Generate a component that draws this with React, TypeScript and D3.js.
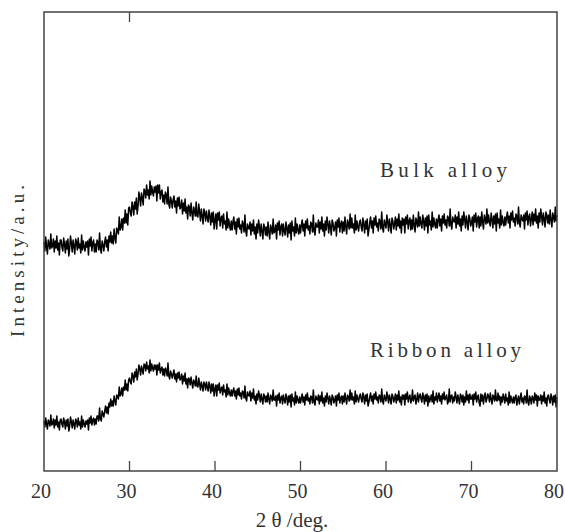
import React from "react";
import * as d3 from "d3";

// 2θ sampling grid of the digitised patterns (one row below = 1 degree)
const TWO_THETA_START = 20;
const TWO_THETA_STEP = 0.1;

// Intensity (a.u., arbitrary offset units)
const BULK = [
  229, 220, 234, 224, 217, 231, 227, 222, 237, 223,
  225, 232, 219, 230, 223, 235, 221, 228, 216, 231,
  231, 224, 220, 233, 227, 218, 230, 222, 232, 215,
  222, 235, 228, 219, 231, 225, 217, 232, 229, 221,
  233, 223, 227, 218, 236, 221, 230, 224, 220, 229,
  224, 230, 216, 232, 225, 234, 220, 228, 231, 219,
  227, 219, 231, 229, 221, 238, 222, 218, 230, 226,
  220, 229, 234, 224, 231, 220, 235, 229, 239, 228,
  235, 227, 242, 233, 228, 243, 241, 237, 254, 241,
  244, 252, 241, 253, 248, 261, 248, 257, 246, 263,
  264, 258, 255, 269, 264, 256, 269, 262, 273, 257,
  265, 279, 273, 265, 278, 273, 266, 282, 280, 273,
  286, 276, 281, 272, 290, 276, 285, 279, 275, 284,
  279, 285, 270, 286, 278, 286, 272, 279, 281, 269,
  276, 267, 279, 276, 267, 284, 267, 263, 274, 270,
  263, 271, 275, 264, 270, 258, 273, 265, 274, 262,
  264, 271, 257, 268, 260, 272, 258, 264, 252, 266,
  264, 255, 268, 258, 251, 264, 260, 255, 269, 255,
  254, 267, 259, 250, 262, 255, 247, 262, 258, 250,
  260, 253, 249, 261, 255, 246, 258, 249, 259, 242,
  251, 257, 242, 258, 251, 259, 245, 253, 255, 243,
  257, 247, 250, 241, 259, 243, 252, 246, 241, 250,
  241, 249, 254, 242, 249, 237, 252, 244, 253, 242,
  246, 238, 250, 247, 239, 256, 240, 235, 247, 243,
  242, 249, 236, 247, 240, 251, 237, 244, 232, 247,
  238, 251, 244, 235, 247, 240, 232, 247, 244, 236,
  244, 235, 249, 239, 232, 246, 242, 237, 252, 238,
  240, 246, 232, 248, 241, 250, 236, 244, 247, 235,
  247, 240, 236, 249, 243, 234, 246, 238, 248, 231,
  250, 240, 244, 235, 253, 238, 247, 241, 237, 246,
  238, 246, 251, 240, 247, 235, 250, 243, 252, 241,
  245, 237, 249, 247, 239, 256, 240, 236, 248, 244,
  244, 251, 238, 249, 242, 254, 240, 247, 235, 250,
  241, 254, 247, 238, 250, 244, 236, 251, 248, 240,
  243, 249, 235, 251, 244, 253, 239, 247, 250, 238,
  249, 240, 254, 244, 237, 251, 247, 242, 257, 243,
  253, 243, 247, 238, 256, 241, 250, 244, 240, 249,
  251, 244, 240, 253, 247, 238, 250, 242, 252, 235,
  241, 249, 254, 243, 250, 238, 253, 246, 255, 244,
  248, 240, 252, 250, 242, 259, 243, 239, 251, 247,
  243, 256, 249, 240, 252, 246, 238, 253, 250, 242,
  247, 254, 241, 252, 245, 257, 243, 250, 238, 253,
  246, 252, 238, 254, 247, 256, 242, 250, 253, 241,
  251, 242, 256, 246, 239, 253, 249, 244, 259, 245,
  254, 247, 243, 256, 250, 241, 253, 245, 255, 238,
  256, 246, 250, 241, 259, 244, 253, 247, 243, 252,
  243, 251, 256, 245, 252, 240, 255, 248, 257, 246,
  251, 243, 255, 253, 245, 262, 246, 242, 254, 250,
  249, 256, 243, 254, 247, 259, 245, 252, 240, 255,
  246, 259, 252, 243, 255, 249, 241, 256, 253, 245,
  248, 254, 240, 256, 249, 258, 244, 252, 255, 243,
  254, 245, 259, 249, 242, 256, 252, 247, 262, 248,
  256, 249, 245, 258, 252, 243, 255, 247, 257, 240,
  258, 248, 252, 243, 261, 246, 255, 249, 245, 254,
  246, 254, 259, 248, 255, 243, 258, 251, 260, 249,
  253, 245, 257, 255, 247, 264, 248, 244, 256, 252,
  250, 256, 242, 258, 251, 260, 246, 254, 257, 245,
  252, 259, 246, 257, 250, 262, 248, 255, 243, 258,
  249, 262, 255, 246, 258, 252, 244, 259, 256, 248,
  256, 247, 261, 251, 244, 258, 254, 249, 264, 250,
  256,
];

const RIBBON = [
  50, 44, 53, 47, 42, 51, 49, 45, 56, 46,
  47, 52, 43, 51, 46, 55, 44, 49, 41, 51,
  52, 47, 44, 53, 49, 42, 51, 45, 52, 40,
  45, 54, 49, 43, 51, 47, 42, 52, 50, 44,
  53, 46, 49, 42, 55, 44, 51, 47, 44, 50,
  47, 51, 41, 53, 48, 55, 46, 51, 53, 46,
  52, 47, 55, 55, 50, 63, 52, 50, 60, 57,
  54, 60, 65, 58, 64, 57, 68, 64, 72, 65,
  70, 65, 75, 70, 66, 76, 75, 72, 84, 75,
  77, 83, 75, 84, 81, 91, 81, 87, 80, 91,
  93, 89, 87, 98, 95, 89, 99, 94, 102, 91,
  97, 106, 102, 96, 105, 101, 97, 107, 106, 100,
  109, 102, 105, 98, 111, 100, 107, 103, 100, 106,
  102, 106, 96, 106, 101, 108, 98, 102, 104, 96,
  102, 95, 103, 101, 95, 108, 95, 92, 100, 97,
  93, 97, 101, 92, 97, 89, 98, 93, 99, 91,
  92, 97, 87, 95, 90, 98, 87, 92, 83, 93,
  92, 86, 94, 88, 83, 91, 89, 85, 95, 85,
  84, 93, 87, 81, 89, 85, 80, 89, 87, 81,
  89, 84, 80, 89, 85, 78, 87, 80, 87, 75,
  82, 86, 75, 86, 81, 88, 78, 82, 84, 76,
  86, 79, 81, 74, 87, 76, 83, 78, 75, 81,
  75, 80, 83, 75, 80, 72, 82, 76, 83, 75,
  78, 72, 80, 79, 73, 85, 73, 70, 79, 76,
  75, 80, 70, 78, 73, 82, 71, 75, 67, 77,
  71, 80, 75, 69, 77, 72, 67, 77, 75, 69,
  75, 69, 78, 72, 67, 76, 74, 70, 81, 71,
  71, 75, 65, 76, 71, 78, 68, 73, 75, 67,
  76, 71, 68, 77, 73, 66, 75, 69, 76, 64,
  77, 70, 73, 66, 79, 68, 75, 71, 68, 74,
  68, 73, 77, 69, 74, 66, 76, 71, 78, 70,
  73, 67, 75, 74, 68, 81, 69, 66, 75, 72,
  71, 76, 67, 75, 70, 79, 68, 73, 65, 75,
  69, 78, 73, 67, 75, 71, 66, 76, 74, 68,
  71, 75, 65, 76, 71, 78, 68, 73, 75, 67,
  75, 69, 78, 72, 67, 76, 74, 70, 81, 71,
  78, 71, 74, 67, 80, 69, 76, 72, 69, 75,
  77, 72, 69, 78, 74, 67, 76, 70, 77, 65,
  69, 74, 78, 70, 75, 67, 77, 72, 79, 71,
  74, 68, 76, 75, 69, 82, 70, 67, 76, 73,
  70, 79, 74, 68, 76, 72, 67, 77, 75, 69,
  72, 77, 68, 76, 71, 80, 69, 74, 66, 76,
  72, 76, 66, 77, 72, 79, 69, 74, 76, 68,
  71, 81, 70, 74, 76, 67, 72, 78, 69, 75,
  77, 72, 69, 78, 74, 67, 76, 70, 77, 65,
  75, 69, 72, 76, 69, 80, 67, 74, 71, 78,
  69, 74, 78, 70, 75, 67, 77, 72, 79, 71,
  73, 76, 67, 70, 82, 69, 75, 76, 68, 74,
  70, 79, 74, 68, 76, 72, 67, 77, 75, 69,
  76, 66, 74, 69, 80, 71, 76, 68, 77, 72,
  72, 76, 66, 77, 72, 79, 69, 74, 76, 68,
  65, 77, 70, 76, 67, 74, 78, 69, 72, 77,
  75, 69, 78, 72, 67, 76, 74, 70, 81, 71,
  70, 78, 71, 75, 66, 74, 69, 77, 73, 68,
  77, 70, 73, 66, 79, 68, 75, 71, 68, 74,
  68, 74, 76, 66, 71, 75, 67, 73, 78, 69,
  73, 67, 75, 74, 68, 81, 69, 66, 75, 72,
  67, 75, 73, 68, 78, 71, 76, 65, 75, 71,
  71, 76, 67, 75, 70, 79, 68, 73, 65, 75,
  76, 71, 68, 77, 73, 66, 75, 69, 76, 64,
  74,
];

const X_TICKS = [20, 30, 40, 50, 60, 70, 80];
const TOP_TICKS = [30];
const SERIES_LABELS = ["Bulk alloy", "Ribbon alloy"];
const X_TITLE = "2 θ /deg.";
const Y_TITLE = "Intensity/a.u.";

export default function App() {
  const W = 565;
  const H = 532;
  const L = 44, R = 557, T = 12, B = 471;
  const x = d3.scaleLinear().domain([20, 80]).range([L, R]);
  const y = d3.scaleLinear().domain([0, 459]).range([B, T]);
  const line = d3
    .line<number>()
    .x((_, i) => x(TWO_THETA_START + i * TWO_THETA_STEP))
    .y((d) => y(d));

  const font = "'Liberation Serif', 'DejaVu Serif', serif";
  const axisColor = "#444";

  return (
    <svg
      width={W}
      height={H}
      style={{ position: "absolute", left: 0, top: 0, background: "#fff" }}
    >
      <rect x={0} y={0} width={W} height={H} fill="#fff" />
      {/* data */}
      <path d={line(BULK) || ""} fill="none" stroke="#000" strokeWidth={1.5} strokeLinejoin="round" />
      <path d={line(RIBBON) || ""} fill="none" stroke="#000" strokeWidth={1.5} strokeLinejoin="round" />

      {/* frame */}
      <rect x={L} y={T} width={R - L} height={B - T} fill="none" stroke={axisColor} strokeWidth={1.5} />
      {X_TICKS.filter((t) => t > 20 && t < 80).map((t) => (
        <line key={"b" + t} x1={x(t)} x2={x(t)} y1={B} y2={B - 10} stroke={axisColor} strokeWidth={1.3} />
      ))}
      {TOP_TICKS.map((t) => (
        <line key={"t" + t} x1={x(t)} x2={x(t)} y1={T} y2={T + 10} stroke={axisColor} strokeWidth={1.3} />
      ))}
      {X_TICKS.map((t) => (
        <text key={"l" + t} x={x(t) - 3} y={498} fontFamily={font} fontSize={20} textAnchor="middle" fill="#333">
          {t}
        </text>
      ))}
      <text x={292} y={527} fontFamily={font} fontSize={21} textAnchor="middle" fill="#333">
        {X_TITLE}
      </text>
      <text
        transform={`translate(24, 261) rotate(-90)`}
        fontFamily={font}
        fontSize={19}
        textAnchor="middle"
        fill="#333"
        textLength={152}
        lengthAdjust="spacing"
      >
        {Y_TITLE}
      </text>
      <text x={380} y={177} fontFamily={font} fontSize={21} fill="#333" textLength={127} lengthAdjust="spacing">
        {SERIES_LABELS[0]}
      </text>
      <text x={370} y={357} fontFamily={font} fontSize={21} fill="#333" textLength={151} lengthAdjust="spacing">
        {SERIES_LABELS[1]}
      </text>
    </svg>
  );
}
